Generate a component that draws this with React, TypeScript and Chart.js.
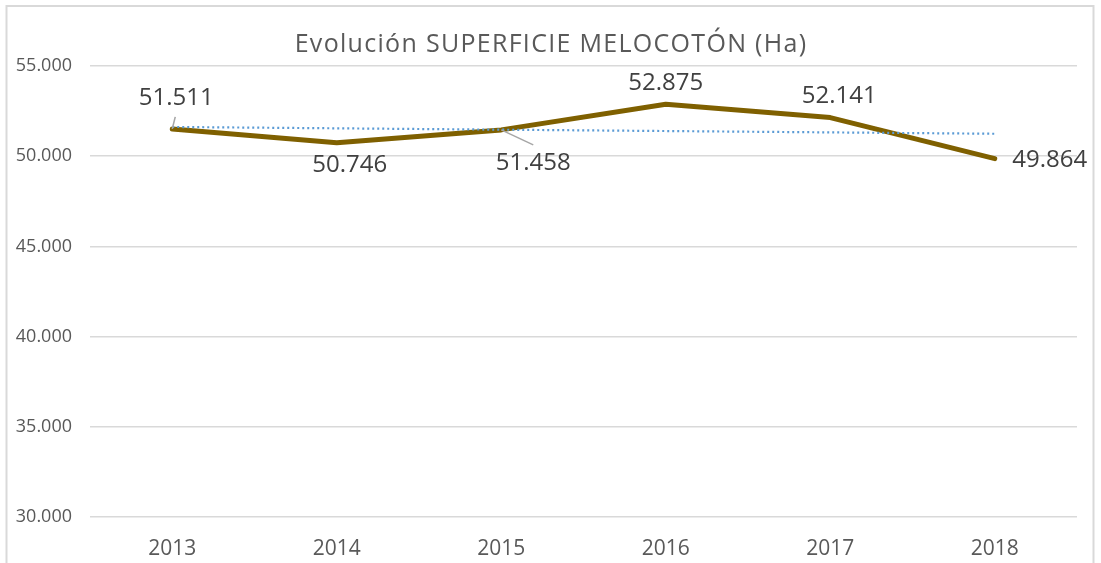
import React, { useEffect, useRef } from "react";
import { Chart, registerables } from "chart.js";

Chart.register(...registerables);

const TITLE = "Evolución SUPERFICIE MELOCOTÓN (Ha)";
const YEARS = ["2013", "2014", "2015", "2016", "2017", "2018"];
const SUPERFICIE = [51511, 50746, 51458, 52875, 52141, 49864];
const Y_MIN = 30000;
const Y_MAX = 55000;
const Y_STEP = 5000;

// label placement (pixel offsets from each point) and leader lines
const LABEL_DX = [4, 13, 32, 0, 9, 55];
const LABEL_DY = [-31, 22, 33, -21, -21, 1.5];
const LEADER = [
  [3, -12],
  null,
  [32, 15],
  null,
  null,
  null,
];

const fmt = (v: number) =>
  Math.round(v)
    .toString()
    .replace(/\B(?=(\d{3})+(?!\d))/g, ".");

function linearTrend(vals: number[]): number[] {
  const n = vals.length;
  const xs = vals.map((_, i) => i + 1);
  const mx = xs.reduce((a, b) => a + b, 0) / n;
  const my = vals.reduce((a, b) => a + b, 0) / n;
  let sxy = 0,
    sxx = 0;
  for (let i = 0; i < n; i++) {
    sxy += (xs[i] - mx) * (vals[i] - my);
    sxx += (xs[i] - mx) * (xs[i] - mx);
  }
  const b = sxy / sxx;
  return xs.map((x) => my + b * (x - mx));
}

const FONT = "'Open Sans', 'Noto Sans', sans-serif";

const decorPlugin = {
  id: "decor",
  beforeDraw(chart: any) {
    const ctx = chart.ctx;
    ctx.save();
    ctx.fillStyle = "#ffffff";
    ctx.fillRect(0, 0, chart.width, chart.height);
    ctx.strokeStyle = "#D9D9D9";
    ctx.lineWidth = 2;
    ctx.strokeRect(6.5, 6, 1087, 620);
    ctx.restore();
  },
  afterDatasetsDraw(chart: any) {
    const ctx = chart.ctx;
    ctx.save();
    // title
    ctx.fillStyle = "#595959";
    ctx.font = `25px ${FONT}`;
    (ctx as any).letterSpacing = "1.3px";
    ctx.textAlign = "center";
    ctx.textBaseline = "alphabetic";
    ctx.fillText(TITLE, 551, 52);
    (ctx as any).letterSpacing = "0px";

    const meta = chart.getDatasetMeta(0);
    meta.data.forEach((pt: any, i: number) => {
      const lead = LEADER[i];
      if (lead) {
        ctx.strokeStyle = "#A6A6A6";
        ctx.lineWidth = 1.5;
        ctx.beginPath();
        ctx.moveTo(pt.x, pt.y);
        ctx.lineTo(pt.x + lead[0], pt.y + lead[1]);
        ctx.stroke();
      }
      ctx.fillStyle = "#404040";
      ctx.font = `24px ${FONT}`;
      ctx.textAlign = "center";
      ctx.textBaseline = "middle";
      ctx.fillText(fmt(SUPERFICIE[i]), pt.x + LABEL_DX[i], pt.y + LABEL_DY[i]);
    });
    ctx.restore();
  },
};

export default function App() {
  const ref = useRef<HTMLCanvasElement>(null);
  useEffect(() => {
    if (!ref.current) return;
    const chart = new Chart(ref.current, {
      type: "line",
      data: {
        labels: YEARS,
        datasets: [
          {
            data: SUPERFICIE,
            borderColor: "#7F6000",
            borderWidth: 5,
            borderCapStyle: "round",
            borderJoinStyle: "round",
            pointRadius: 0,
            tension: 0,
            order: 1,
          },
          {
            data: linearTrend(SUPERFICIE),
            borderColor: "#5B9BD5",
            borderWidth: 2.2,
            borderDash: [2, 3],
            pointRadius: 0,
            tension: 0,
            order: 0,
          },
        ],
      },
      options: {
        responsive: false,
        animation: false,
        layout: { padding: { left: 0, right: 24, top: 66, bottom: 0 } },
        plugins: {
          legend: { display: false },
          tooltip: { enabled: false },
          title: { display: false },
        },
        scales: {
          x: {
            offset: true,
            grid: { display: false },
            border: { display: false },
            ticks: {
              color: "#595959",
              font: { family: FONT, size: 21 },
              padding: 11,
            },
            afterFit(scale: any) {
              scale.height = 46;
            },
          },
          y: {
            min: Y_MIN,
            max: Y_MAX,
            grid: { color: "#D9D9D9", lineWidth: 1.5, drawTicks: false },
            border: { display: false },
            ticks: {
              stepSize: Y_STEP,
              color: "#595959",
              font: { family: FONT, size: 18 },
              padding: 18,
              callback: (v: any) => fmt(Number(v)),
            },
            afterFit(scale: any) {
              scale.width = 90;
            },
          },
        },
      },
      plugins: [decorPlugin],
    });
    return () => chart.destroy();
  }, []);
  return (
    <canvas
      ref={ref}
      width={1101}
      height={563}
      style={{ position: "absolute", left: 0, top: 0, display: "block" }}
    />
  );
}
